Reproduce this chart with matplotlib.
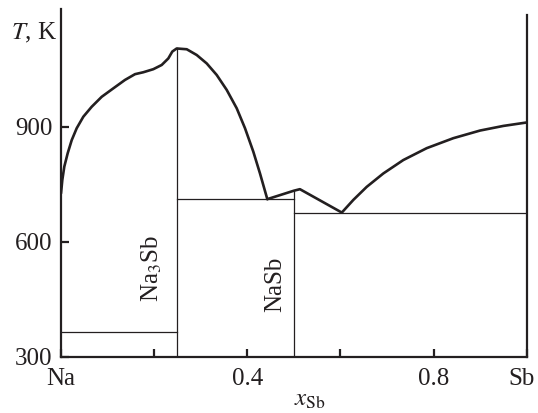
import matplotlib
matplotlib.use("Agg")
import matplotlib.pyplot as plt
import matplotlib.transforms as mtransforms
from matplotlib.ticker import FixedLocator

plt.rcParams['font.family'] = ['Liberation Serif', 'DejaVu Serif']
plt.rcParams['mathtext.fontset'] = 'stix'
plt.rcParams['font.size'] = 18

ink = '#231f20'

# liquidus (x_Sb, T in K)
x_left = [0.0, 0.0028, 0.0071, 0.0144, 0.023, 0.0337, 0.0479, 0.0659, 0.0874,
          0.1123, 0.1374, 0.1589, 0.1767, 0.1982, 0.2162, 0.2304, 0.239, 0.2484,
          0.27, 0.2914, 0.3129, 0.3343, 0.3558, 0.3773, 0.3951, 0.4129, 0.4273,
          0.443]
T_left = [726, 761, 796, 831, 865, 896, 926, 952, 978,
          1000, 1022, 1037, 1042, 1050, 1061, 1078, 1096, 1104,
          1102, 1087, 1065, 1035, 996, 948, 896, 835, 778,
          711]
x_mid = [0.443, 0.5, 0.513, 0.603]
T_mid = [711, 733, 737, 676]
x_right = [0.603, 0.6277, 0.6564, 0.6921, 0.735, 0.7853, 0.8424, 0.9, 0.9498, 1.0]
T_right = [676, 709, 743, 778, 813, 844, 870, 890, 902, 911]

# eutectic / peritectic horizontals: (T, x_from, x_to)
horiz = [(365, 0.0, 0.25), (711, 0.25, 0.5), (676, 0.5, 1.0)]
# compounds: (x, T_top, label)
compounds = [(0.25, 1104, 'Na$_3$Sb'), (0.5, 733, 'NaSb')]
label_pos = [(0.195, 531), (0.46, 490)]

fig = plt.figure(figsize=(5.38, 4.13), dpi=100)
ax = fig.add_axes([0.1134, 0.1363, 0.8656, 0.8419])

for xs, ts in [(x_left, T_left), (x_mid, T_mid), (x_right, T_right)]:
    ax.plot(xs, ts, color=ink, lw=1.9, solid_joinstyle='round',
            solid_capstyle='round')

for T, a, b in horiz:
    ax.plot([a, b], [T, T], color=ink, lw=0.9)
for (xc, Ttop, lab), (lx, ly) in zip(compounds, label_pos):
    ax.plot([xc, xc], [300, Ttop], color=ink, lw=0.9)
    ax.text(lx, ly, lab, rotation=90, ha='center', va='center', color=ink)

ax.set_xlim(0, 1)
ax.set_ylim(300, 1207)
ax.spines['top'].set_visible(False)
ax.spines['right'].set_bounds(300, 1191)
for s in ['left', 'right', 'bottom']:
    ax.spines[s].set_linewidth(1.6)
    ax.spines[s].set_color(ink)

ax.set_xticks([0, 0.4, 0.8, 1.0])
ax.set_xticklabels(['Na', '0.4', '0.8', 'Sb'])
ax.xaxis.set_minor_locator(FixedLocator([0.2, 0.6]))
ax.set_yticks([300, 600, 900])
ax.tick_params(which='both', direction='in', length=6, width=1.6, color=ink,
               labelcolor=ink)
ax.tick_params(axis='x', pad=8)
ax.tick_params(axis='y', pad=6)

# nudge the edge labels like in the original
shift = mtransforms.ScaledTranslation(-0.05, 0, fig.dpi_scale_trans)
lbl = ax.get_xticklabels()[-1]
lbl.set_transform(lbl.get_transform() + shift)

ax.text(-0.008, 1144, '$T$, K', transform=ax.get_yaxis_transform(),
        ha='right', va='center', color=ink)
ax.set_xlabel(r'$x_{\mathrm{Sb}}$', color=ink)
ax.xaxis.set_label_coords(0.535, -0.093)

fig.savefig('out.png', dpi=100)
